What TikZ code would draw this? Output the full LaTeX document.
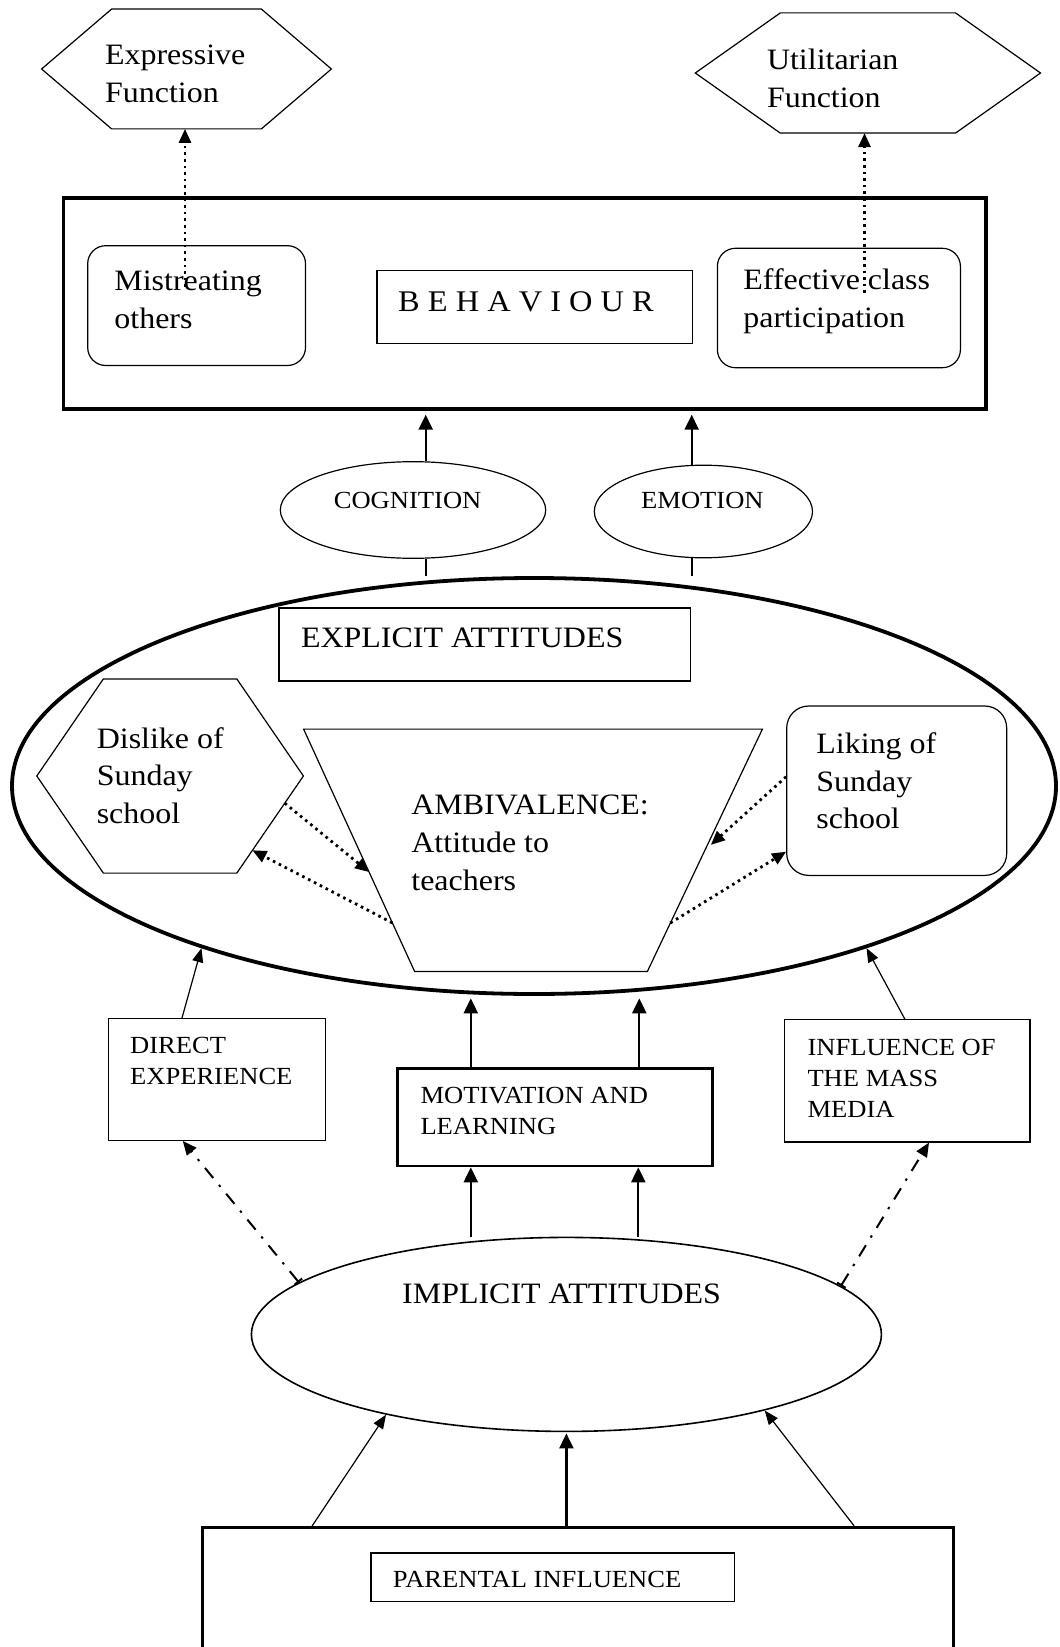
\documentclass[tikz,border=0pt]{standalone}
\usepackage{fontspec}
\setmainfont[FakeStretch=1.08]{Liberation Serif}
\usetikzlibrary{shapes.geometric,arrows.meta,calc}

% outline of a flat hexagon drawn on the bounding rectangle of a node
\newcommand\hexoutline[2]{%
  \draw[thinline] (#1.west) -- ([xshift=#2]#1.north west) -- ([xshift=-#2]#1.north east)
    -- (#1.east) -- ([xshift=-#2]#1.south east) -- ([xshift=#2]#1.south west) -- cycle;}

\begin{document}
\begin{tikzpicture}[x=0.5pt,y=-0.5pt,
  thinline/.style={line width=0.6pt},
  plain/.style={draw,thinline,inner sep=0pt},
  heavy/.style={draw,line width=1.9pt,inner sep=0pt},
  medium/.style={draw,line width=1.4pt,inner sep=0pt},
  rbox/.style={plain,rounded corners=9pt},
  frame/.style={inner sep=0pt},
  oval/.style={plain,ellipse},
  bigtxt/.style={font=\fontsize{14.8}{18.8}\selectfont,align=left,inner sep=0pt},
  smalltxt/.style={font=\fontsize{12.3}{15.5}\selectfont,align=left,inner sep=0pt},
  link/.style={line width=1.1pt},
  heavyarrow/.style={line width=1.1pt,-{Triangle[length=7.5pt,width=7pt]}},
  thinarrow/.style={thinline,-{Triangle[length=7pt,width=5.5pt]}},
  dotarrow/.style={line width=1.4pt,dash pattern=on 1.3pt off 2pt,-{Triangle[length=7pt,width=6pt]}},
  dasharrow/.style={line width=1pt,dash pattern=on 6.5pt off 4.5pt on 1.2pt off 4.5pt,
    {Bar[width=5pt]}-{Triangle[length=7pt,width=6pt]}},
]
\useasboundingbox (0,0) rectangle (1059,1647);
\clip (0,0) rectangle (1059,1647);

% ---------- functions ----------
\node[frame,minimum width=144.5pt,minimum height=59.5pt] (expr) at (186.5,69) {};
\hexoutline{expr}{35pt}
\node[bigtxt,anchor=west] (exprtxt) at (104.7,74) {Expressive\\Function};

\node[frame,minimum width=172.2pt,minimum height=59.7pt] (util) at (867.9,73) {};
\hexoutline{util}{42.5pt}
\node[bigtxt,anchor=west] (utiltxt) at (766.6,78.5) {Utilitarian\\Function};

% ---------- behaviour ----------
\node[heavy,minimum width=461.3pt,minimum height=105.5pt] (beh) at (524.7,303.3) {};
\node[rbox,minimum width=108.9pt,minimum height=59.9pt] (mis) at (196.6,305.6) {};
\node[bigtxt,anchor=west] (mistxt) at (114,300) {Mistreating\\others};
\node[plain,minimum width=157.7pt,minimum height=36.3pt] (behlab) at (534.6,307) {};
\node[bigtxt,font=\fontsize{15}{18}\selectfont] (behtxt) at (526,301.7) {B E H A V I O U R};
\node[rbox,minimum width=121.5pt,minimum height=59.7pt] (eff) at (838.9,308) {};
\node[bigtxt,anchor=west] (efftxt) at (743,301.5) {Effective class\\participation};

\coordinate (misdot) at ([xshift=-5.8pt,yshift=9.3pt]mis.center);
\coordinate (effdot) at ([xshift=12.8pt,yshift=7.5pt]eff.center);
\draw[dotarrow] (misdot) -- (misdot |- expr.south);
\draw[dotarrow] (effdot) -- (effdot |- util.south);

% ---------- cognition and emotion ----------
\node[oval,minimum width=132.7pt,minimum height=48.3pt] (cog) at (413,510) {};
\node[smalltxt] (cogtxt) at (407.6,500) {COGNITION};
\node[oval,minimum width=109.1pt,minimum height=46.3pt] (emo) at (703.4,511.5) {};
\node[smalltxt] (emotxt) at (702.4,500) {EMOTION};

% ---------- explicit attitudes ----------
\node[ellipse,draw,line width=1.9pt,inner sep=0pt,minimum width=522pt,minimum height=208pt] (expl) at (534,786) {};
\node[plain,minimum width=205.7pt,minimum height=36.5pt] (explbox) at (484.6,644.5) {};
\node[bigtxt,anchor=west] (expltxt) at (300.6,638) {EXPLICIT ATTITUDES};

\coordinate (c1) at ([xshift=6.35pt]cog.north);
\coordinate (c2) at ([xshift=-5.85pt]emo.north);
\draw[heavyarrow,shorten >=2pt] (c1) -- (c1 |- beh.south);
\draw[heavyarrow,shorten >=2pt] (c2) -- (c2 |- beh.south);
\draw[link] (c1 |- cog.south) -- (c1 |- expl.north);
\draw[link] (c2 |- emo.south) -- (c2 |- expl.north);

\node[frame,minimum width=132.9pt,minimum height=96.7pt] (dis) at (170.1,776) {};
\hexoutline{dis}{33.3pt}
\node[bigtxt,anchor=west] (distxt) at (96.4,775.6) {Dislike of\\Sunday\\school};

\node[frame,minimum width=229pt,minimum height=120.75pt] (amb) at (533,850.25) {};
\coordinate (aTL) at (amb.north west);
\coordinate (aTR) at (amb.north east);
\coordinate (aBR) at ([xshift=-57.5pt]amb.south east);
\coordinate (aBL) at ([xshift=55.5pt]amb.south west);
\draw[thinline] (aTL) -- (aTR) -- (aBR) -- (aBL) -- cycle;
\node[bigtxt,anchor=west] (ambtxt) at (411,842.8) {AMBIVALENCE:\\Attitude to\\teachers};

\node[rbox,rounded corners=11pt,minimum width=110pt,minimum height=84.7pt] (lik) at (896.7,790.7) {};
\node[bigtxt,anchor=west] (liktxt) at (816,781) {Liking of\\Sunday\\school};

\coordinate (dE) at (dis.east);
\coordinate (dSE) at ([xshift=-33.3pt]dis.south east);
\draw[dotarrow] ($(dE)!0.28!(dSE)$) -- ($(aTL)!0.59!(aBL)$);
\draw[dotarrow] ($(aTL)!0.80!(aBL)$) -- ($(dE)!0.765!(dSE)$);
\draw[dotarrow,shorten >=4pt] ([yshift=7pt]lik.west) -- ($(aTR)!0.5!(aBR)$);
\draw[dotarrow] ($(aTR)!0.8!(aBR)$) -- ([yshift=-30.5pt]lik.west);

% ---------- middle row ----------
\node[plain,minimum width=108.7pt,minimum height=60.9pt] (dir) at (216.8,1079.4) {};
\node[smalltxt,anchor=west] (dirtxt) at (129.7,1061) {DIRECT\\EXPERIENCE};
\node[medium,minimum width=157.7pt,minimum height=48.9pt] (mot) at (554.8,1117) {};
\node[smalltxt,anchor=west] (mottxt) at (420.1,1111.2) {MOTIVATION AND\\LEARNING};
\node[plain,minimum width=122.7pt,minimum height=61.1pt] (inf) at (907.3,1080.9) {};
\node[smalltxt,anchor=west] (inftxt) at (807.1,1078.4) {INFLUENCE OF\\THE MASS\\MEDIA};

\draw[thinarrow] ([xshift=-17.4pt]dir.north) -- (expl.206.2);
\draw[thinarrow] ([xshift=-1.2pt]inf.north) -- (expl.-26.6);
\coordinate (m1) at ([xshift=-42pt]mot.north);
\coordinate (m2) at ([xshift=42.25pt]mot.north);
\draw[heavyarrow,shorten >=1.2pt] (m1) -- (m1 |- expl.south);
\draw[heavyarrow,shorten >=1.2pt] (m2) -- (m2 |- expl.south);

% ---------- implicit attitudes ----------
\node[oval,line width=0.8pt,minimum width=315pt,minimum height=97pt] (impl) at (566.4,1334.4) {};
\node[bigtxt] (impltxt) at (561.6,1293.8) {IMPLICIT ATTITUDES};

\coordinate (m3) at ([xshift=-42pt]mot.south);
\coordinate (m4) at ([xshift=41.75pt]mot.south);
\draw[heavyarrow] (m3 |- impl.north) -- (m3);
\draw[heavyarrow] (m4 |- impl.north) -- (m4);
\draw[dasharrow] (impl.169.2) -- ([xshift=-17pt]dir.south);
\draw[dasharrow] (impl.10.8) -- ([xshift=10.85pt]inf.south);

% ---------- parental influence ----------
\node[medium,minimum width=375.5pt,minimum height=70pt] (par) at (578.15,1597.3) {};
\node[plain,minimum width=181.7pt,minimum height=24.1pt] (parlab) at (552.6,1577) {};
\node[smalltxt,anchor=west] (partxt) at (392.5,1579) {PARENTAL INFLUENCE};

\draw[thinarrow] ([xshift=-133pt]par.north) -- (impl.204.2);
\draw[heavyarrow,shorten >=0.6pt] (impl.south |- par.north) -- (impl.south);
\draw[thinarrow] ([xshift=138pt]par.north) -- (impl.-21.1);
\end{tikzpicture}
\end{document}
